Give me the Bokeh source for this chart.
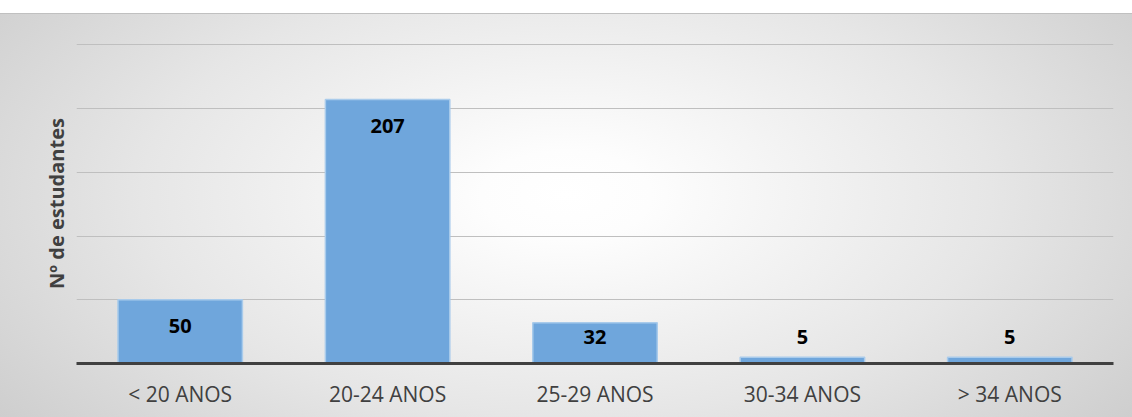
from bokeh.plotting import figure
from bokeh.models import ColumnDataSource, FixedTicker, Range1d, FactorRange
from bokeh.core.properties import value
from bokeh.embed import file_html
from bokeh.resources import INLINE

categories = ["< 20 ANOS", "20-24 ANOS", "25-29 ANOS", "30-34 ANOS", "> 34 ANOS"]
counts = [50, 207, 32, 5, 5]
y_ticks = [0, 50, 100, 150, 200, 250]
y_title = "Nº de estudantes"

FONT = "Open Sans"

label_y = [max(v - 20.5, 20.5) for v in counts]
src = ColumnDataSource(dict(cat=categories, n=counts, ly=label_y, txt=[str(v) for v in counts]))

p = figure(
    x_range=FactorRange(*categories, range_padding=0),
    y_range=Range1d(0, 251),
    width=1132, height=404,
    output_backend="svg", toolbar_location=None,
    min_border_left=76, min_border_right=19, min_border_top=29, min_border_bottom=55,
)
p.margin = (13, 0, 0, 0)
p.styles = {
    "background-image": "radial-gradient(ellipse 75% 110% at 50% 45%, #ffffff 0%, #fdfdfd 10%, #e6e6e6 50%, #c2c2c2 100%)",
    "border-top": "1px solid #c0c0c0",
    "box-sizing": "border-box",
}
p.border_fill_color = None
p.background_fill_color = None
p.outline_line_color = None

p.vbar(x="cat", top="n", width=0.6, bottom=0, source=src,
       fill_color="#6fa6dc", line_color="#a9cbeb", line_width=1.5)

p.text(x="cat", y="ly", text="txt", source=src, text_font=value(FONT),
       text_font_style="bold", text_font_size="20px", text_color="#000000",
       text_align="center", text_baseline="middle")

p.xgrid.grid_line_color = None
p.ygrid.ticker = FixedTicker(ticks=y_ticks[1:])
p.ygrid.grid_line_color = "#bfbfbf"
p.ygrid.grid_line_width = 1

p.xaxis.axis_line_color = "#404040"
p.xaxis.axis_line_width = 3
p.xaxis.major_tick_line_color = None
p.xaxis.minor_tick_line_color = None
p.xaxis.major_label_text_font = FONT
p.xaxis.major_label_text_font_size = "21px"
p.xaxis.major_label_text_color = "#404040"
p.xaxis.major_label_standoff = 10

p.yaxis.ticker = FixedTicker(ticks=[])
p.yaxis.axis_line_color = None
p.yaxis.major_tick_line_color = None
p.yaxis.minor_tick_line_color = None
p.yaxis.axis_label = y_title
p.yaxis.axis_label_text_font = FONT
p.yaxis.axis_label_text_font_style = "bold"
p.yaxis.axis_label_text_font_size = "20px"
p.yaxis.axis_label_text_color = "#404040"
p.yaxis.axis_label_standoff = 7

open("out.html", "w").write(file_html(p, INLINE))
